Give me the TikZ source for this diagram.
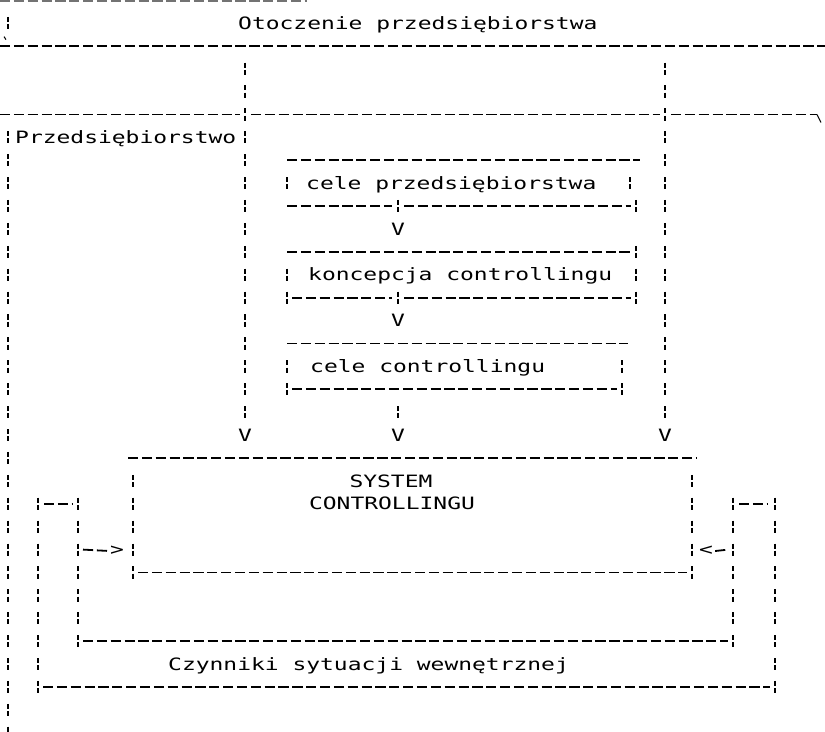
\documentclass[tikz,border=0pt]{standalone}
\usepackage{fontspec}
\newfontfamily\dmfont[FakeStretch=1.35]{DejaVu Sans Mono}
\newcommand\vbars[3]{\draw[vl] ([yshift=6.1pt]#1,#2) -- ([yshift=-6.1pt]#1,#3);}
\begin{document}
\begin{tikzpicture}[x=1pt,y=-22.9pt,
  hl/.style={line width=1.8pt, dash pattern=on 10.2pt off 3.65pt},
  vl/.style={line width=1.8pt, dash pattern=on 5pt off 2.2pt on 5pt off 10.7pt},
  lbl/.style={font=\dmfont\fontsize{17}{20}\selectfont, inner sep=0pt, anchor=base west},
  clbl/.style={lbl, anchor=base},
  tip/.style={lbl, anchor=base}]
\useasboundingbox[fill=white] (0,0) rectangle (825,31.965);

% ---------- texts ----------
\node[lbl] (oto) at (238,1.27) {Otoczenie przedsiębiorstwa};
\node[lbl] (prz) at (15,6.27) {Przedsiębiorstwo};
\node[lbl] (cp) at (306,8.27) {cele przedsiębiorstwa};
\node[lbl] (kc) at (308,12.27) {koncepcja controllingu};
\node[lbl] (cc) at (310,16.27) {cele controllingu};
\node[clbl] (sys1) at (391,21.27) {SYSTEM};
\node[clbl] (sys2) at (392,22.27) {CONTROLLINGU};
\node[lbl] (czy) at (168,29.27) {Czynniki sytuacji wewnętrznej};

% ---------- arrow heads ----------
\node[tip] (vA1) at (398,10.27) {V};
\node[tip] (vA2) at (398,14.27) {V};
\node[tip] (vA3) at (398,19.27) {V};
\node[tip] (vB) at (245,19.27) {V};
\node[tip] (vC) at (665,19.27) {V};
\node[tip] (gtL) at (117,24.27) {>};
\node[tip] (ltR) at (706,24.27) {<};

% ---------- horizontal lines ----------
\draw[hl, black!55] (0,0.03) -- (307,0.03);
\draw[hl] (0,2) -- (825,2);
\draw[hl] (0,5) -- (240,5) (251,5) -- (660,5) (671,5) -- (817,5);
\draw[line width=1pt] (817,5) -- ++(4pt,-8pt);
\draw[line width=1pt] (4,1.6) -- ++(2pt,-3pt);
\draw[hl] (287,7) -- (640,7);
\draw[hl] (287,9) -- (392,9) (404,9) -- (631,9);
\draw[hl] (287,11) -- (631,11);
\draw[hl] (292,13) -- (392,13) (404,13) -- (631,13);
\draw[hl] (287,15) -- (628,15);
\draw[hl] (292,17) -- (617,17);
\draw[hl] (128,20) -- (697,20);
\draw[hl] (44,22) -- (72,22) (739,22) -- (768,22);
\draw[hl] (138,25) -- (687,25);
\draw[hl] (83,28) -- (728,28);
\draw[hl] (43,30) -- (770,30);

% ---------- vertical lines ----------
\vbars{8}{1}{1}
\vbars{8}{6}{32}
\vbars{287}{8}{8}
\vbars{630}{8}{8}
\vbars{636}{9}{9}
\vbars{636}{11}{13}
\vbars{287}{12}{13}
\vbars{287}{16}{17}
\vbars{622}{16}{17}
\vbars{133}{21}{25}
\vbars{692}{21}{25}
\vbars{38}{22}{30}
\vbars{78}{22}{28}
\vbars{733}{22}{28}
\vbars{775}{22}{30}

% ---------- connectors ----------
\draw[vl] ([yshift=6.1pt]245,3) -- (vB.north);
\draw[vl] ([yshift=6.1pt]665,3) -- (vC.north);
\draw[vl] ([yshift=6.1pt]398,9) -- (vA1.north);
\draw[vl] ([yshift=6.1pt]398,13) -- (vA2.north);
\draw[vl] ([yshift=6.1pt]398,18) -- (vA3.north);
\coordinate (fromL) at (83,24);
\coordinate (toR) at (728,24);
\draw[hl] (fromL) -- (gtL.west);
\draw[hl] ([xshift=2pt]ltR.east) -- (toR);
\end{tikzpicture}
\end{document}
